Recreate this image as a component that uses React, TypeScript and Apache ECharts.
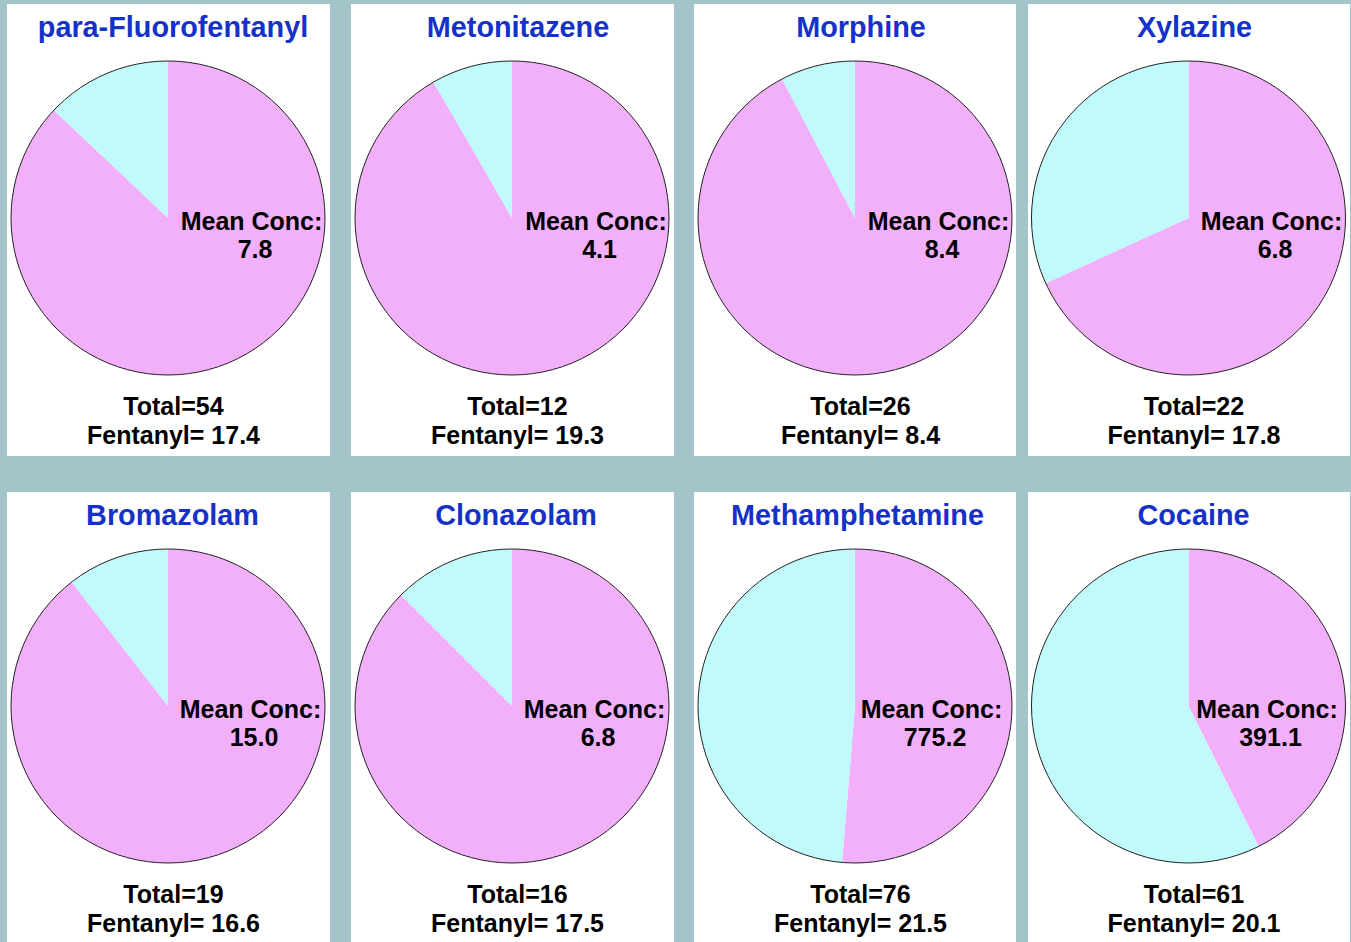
import React, { useEffect, useRef } from "react";
import * as echarts from "echarts";

// ---------- data ----------
const drugs = [
  "para-Fluorofentanyl",
  "Metonitazene",
  "Morphine",
  "Xylazine",
  "Bromazolam",
  "Clonazolam",
  "Methamphetamine",
  "Cocaine",
];
const totals = [54, 12, 26, 22, 19, 16, 76, 61];
const withoutCounts = [7, 1, 2, 7, 2, 2, 37, 35]; // cyan slice
const meanConc = ["7.8", "4.1", "8.4", "6.8", "15.0", "6.8", "775.2", "391.1"];
const fentanylConc = ["17.4", "19.3", "8.4", "17.8", "16.6", "17.5", "21.5", "20.1"];

// ---------- layout / style ----------
const W = 1351;
const H = 942;
const BG = "#A3C4C9";
const PINK = "#F3B0FA";
const CYAN = "#C0FAFB";
const BLUE = "#1432C8";
const FONT = "'Liberation Sans', Arial, Helvetica, sans-serif";
const colX = [7, 351, 694, 1028];
const colW = [323, 323, 322, 322];
const rowY = [4, 492];
const rowH = [452, 450];
const pieCX = [168, 512, 855, 1188.5];
const pieCY = [218, 706];
const R = 157;
const labelDx = [83.5, 84, 83.5, 83, 82.5, 82.5, 76.5, 78.5];
const titleDx = [5, 6, 6, 6, 4.5, 4, 2.5, 5];
const titleYs = [26.5, 515];

export default function App() {
  const ref = useRef<HTMLDivElement>(null);

  useEffect(() => {
    if (!ref.current) return;
    const chart = echarts.init(ref.current, null, { renderer: "svg", width: W, height: H });

    const series: any[] = [];
    const graphic: any[] = [];

    drugs.forEach((name, i) => {
      const row = Math.floor(i / 4);
      const col = i % 4;
      const cx = pieCX[col];
      const cy = pieCY[row];

      graphic.push({
        type: "rect",
        silent: true,
        z: -10,
        shape: { x: colX[col], y: rowY[row], width: colW[col], height: rowH[row] },
        style: { fill: "#FFFFFF" },
      });

      series.push({
        type: "pie",
        name,
        center: [cx, cy],
        radius: R,
        startAngle: 90,
        clockwise: true,
        silent: true,
        label: { show: false },
        labelLine: { show: false },
        itemStyle: { borderWidth: 0 },
        emphasis: { disabled: true },
        data: [
          { name: "With fentanyl", value: totals[i] - withoutCounts[i], itemStyle: { color: PINK } },
          { name: "Without", value: withoutCounts[i], itemStyle: { color: CYAN } },
        ],
      });

      graphic.push({
        type: "circle",
        silent: true,
        z: 100,
        shape: { cx, cy, r: R },
        style: { fill: "none", stroke: "#222222", lineWidth: 1 },
      });

      const txt = (text: string, x: number, y: number, size: number, color: string) => ({
        type: "text",
        silent: true,
        z: 101,
        x,
        y,
        style: {
          text,
          fill: color,
          fontSize: size,
          fontWeight: "bold",
          fontFamily: FONT,
          align: "center",
          verticalAlign: "middle",
        },
      });

      graphic.push(txt(name, cx + titleDx[i], titleYs[row], 28.8, BLUE));
      graphic.push(txt("Mean Conc:", cx + labelDx[i], cy + 3, 25, "#000000"));
      graphic.push(txt(meanConc[i], cx + labelDx[i] + 3.5, cy + 31, 25, "#000000"));
      graphic.push(txt("Total=" + totals[i], cx + 5.5, cy + 188, 25, "#000000"));
      graphic.push(txt("Fentanyl= " + fentanylConc[i], cx + 5.5, cy + 217, 25, "#000000"));
    });

    chart.setOption({
      animation: false,
      backgroundColor: BG,
      series,
      graphic: { elements: graphic },
    });

    return () => chart.dispose();
  }, []);

  return (
    <div
      ref={ref}
      style={{ position: "fixed", left: 0, top: 0, width: W, height: H }}
    />
  );
}
